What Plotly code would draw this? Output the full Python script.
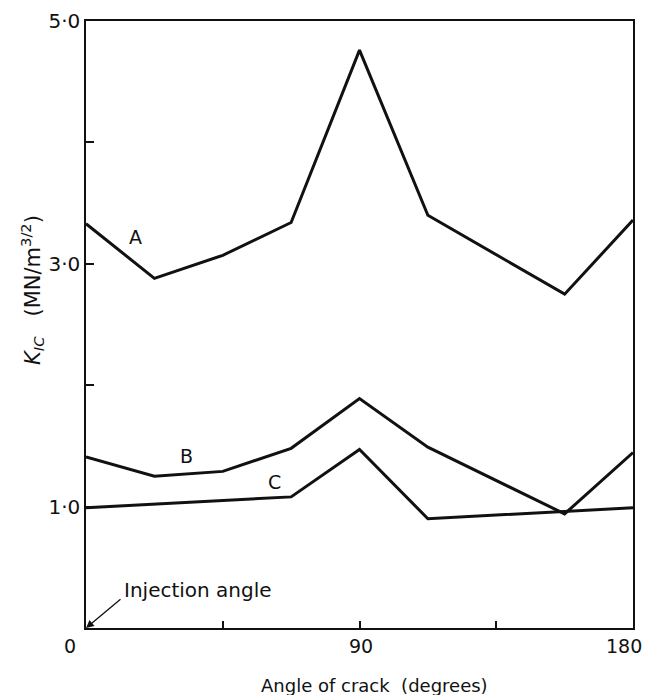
import plotly.graph_objects as go

# Data
angle_A = [0, 22.5, 45, 67.5, 90, 112.5, 157.5, 180]
kic_A = [3.33, 2.88, 3.07, 3.34, 4.76, 3.40, 2.75, 3.36]

angle_B = [0, 22.5, 45, 67.5, 90, 112.5, 157.5, 180]
kic_B = [1.41, 1.25, 1.29, 1.48, 1.89, 1.49, 0.94, 1.445]

angle_C = [0, 67.5, 90, 112.5, 180]
kic_C = [0.99, 1.08, 1.47, 0.90, 0.99]

y_tickvals = [1, 2, 3, 4, 5]
y_ticktext = ["1·0", "", "3·0", "", "5·0"]
x_tickvals = [45, 90, 135]
x_labels = [(0, "0", -16), (90, "90", 1), (180, "180", -9)]

FONT = "DejaVu Sans"
INK = "#111111"

fig = go.Figure()
for xs, ys in [(angle_A, kic_A), (angle_B, kic_B), (angle_C, kic_C)]:
    fig.add_trace(go.Scatter(x=xs, y=ys, mode="lines",
                             line=dict(color=INK, width=3),
                             showlegend=False, hoverinfo="skip"))

# The page body has an 8px default margin, so the figure is sized to compensate
fig.update_layout(
    width=644, height=687,
    margin=dict(l=78, r=19, t=13, b=67),
    paper_bgcolor="white", plot_bgcolor="white",
    font=dict(family=FONT, size=18, color=INK),
    showlegend=False,
)
fig.update_xaxes(range=[0, 180], showgrid=False, zeroline=False, automargin=False,
                 showline=True, linecolor=INK, linewidth=1.5, mirror=True,
                 tickmode="array", tickvals=x_tickvals, ticktext=["", "", ""],
                 ticks="inside", ticklen=7, tickwidth=1.5, tickcolor=INK)
fig.update_yaxes(range=[0, 5], showgrid=False, zeroline=False, automargin=False,
                 showline=True, linecolor=INK, linewidth=1.5, mirror=True,
                 tickmode="array", tickvals=y_tickvals, ticktext=y_ticktext,
                 ticks="inside", ticklen=8, tickwidth=1.5, tickcolor=INK,
                 tickfont=dict(family=FONT, size=20, color=INK))

for xv, txt, sh in x_labels:
    fig.add_annotation(x=xv, y=0, xref="x", yref="y", text=txt, showarrow=False,
                       xshift=sh, yshift=-18, yanchor="middle",
                       font=dict(family=FONT, size=19, color=INK))

# Curve labels
for xv, yv, txt in [(16.2, 3.22, "A"), (33.1, 1.42, "B"), (62.0, 1.20, "C")]:
    fig.add_annotation(x=xv, y=yv, text=txt, showarrow=False,
                       font=dict(family=FONT, size=19, color=INK))

# Injection angle arrow
fig.add_annotation(x=0, y=0, xref="x", yref="y", text="", showarrow=True,
                   ax=36, ay=-30, arrowhead=2, arrowsize=1.2, arrowwidth=1.3,
                   arrowcolor=INK)
fig.add_annotation(x=12.0, y=0.31, xref="x", yref="y", text="Injection angle",
                   showarrow=False, xanchor="left", yanchor="middle",
                   font=dict(family=FONT, size=20, color=INK))

# Axis titles
fig.add_annotation(x=0.527, y=-0.094, xref="paper", yref="paper",
                   text="Angle of crack  (degrees)", showarrow=False,
                   xanchor="center", yanchor="middle",
                   font=dict(family=FONT, size=18, color=INK))
fig.add_annotation(x=-0.0987, y=0.557, xref="paper", yref="paper",
                   text="<i>K</i><sub><i>IC</i></sub>   (MN/m<sup>3/2</sup>)",
                   textangle=-90, showarrow=False,
                   xanchor="center", yanchor="middle",
                   font=dict(family=FONT, size=21, color=INK))

fig.write_html("out.html")
